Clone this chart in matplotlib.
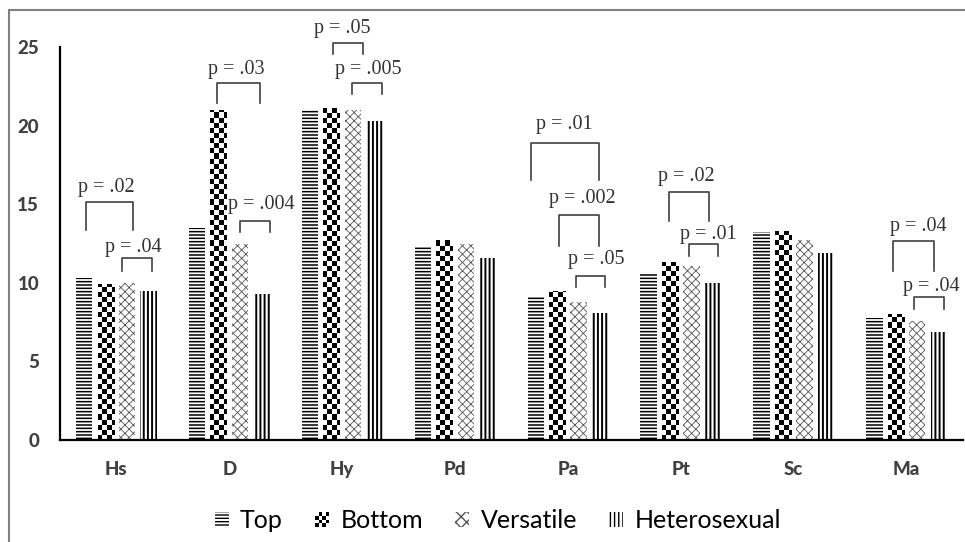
import numpy as np
import matplotlib
matplotlib.use("Agg")
import matplotlib.pyplot as plt
from matplotlib.patches import Patch, Rectangle
from matplotlib.legend_handler import HandlerBase

# MMPI scale scores by group
scales = ["Hs", "D", "Hy", "Pd", "Pa", "Pt", "Sc", "Ma"]
groups = ["Top", "Bottom", "Versatile", "Heterosexual"]
top = [10.3, 13.5, 21.0, 12.3, 9.15, 10.6, 13.2, 7.75]
bottom = [9.9, 21.0, 21.1, 12.75, 9.45, 11.35, 13.3, 8.0]
versatile = [10.0, 12.5, 21.0, 12.5, 8.8, 11.05, 12.75, 7.6]
hetero = [9.5, 9.3, 20.3, 11.55, 8.1, 10.0, 11.9, 6.9]

# significance brackets: x from / to, top of bracket, foot of legs
p_labels = ["p = .02", "p = .04", "p = .03", "p = .004", "p = .05", "p = .005",
            "p = .01", "p = .002", "p = .05", "p = .02", "p = .01", "p = .04", "p = .04"]
br_x0 = [-0.266, 0.053, 0.895, 1.098, 1.922, 2.09, 3.676, 3.924, 4.074, 4.898, 5.075, 6.882, 7.068]
br_x1 = [0.151, 0.319, 1.275, 1.364, 2.188, 2.356, 4.278, 4.278, 4.331, 5.252, 5.332, 7.245, 7.334]
br_top = [15.17, 11.55, 22.72, 13.96, 25.25, 22.72, 18.91, 14.34, 10.41, 15.8, 12.44, 12.63, 9.07]
br_foot = [13.39, 10.72, 21.45, 13.2, 24.56, 22.02, 16.56, 12.37, 9.71, 13.9, 11.68, 10.72, 8.31]
lab_x = [-0.089, 0.151, 1.063, 1.284, 2.002, 2.232, 3.968, 4.128, 4.252, 5.048, 5.243, 7.104, 7.219]
lab_y = [16.05, 12.25, 23.6, 14.97, 26.2, 23.6, 20.05, 15.36, 11.48, 16.75, 13.07, 13.58, 9.77]

fig = plt.figure(figsize=(9.65, 5.42), dpi=100)
ax = fig.add_axes([60 / 965, 102 / 542, 903 / 965, 393 / 542])

x = np.arange(len(scales))
pitch = 0.19
width = 0.145


def style_bars(bars, hatch, color, hlw):
    for b in bars:
        b.set_hatch(hatch)
        b.set_edgecolor(color)
        b.set_linewidth(0)
        if hasattr(b, "set_hatch_linewidth"):
            b.set_hatch_linewidth(hlw)


with plt.rc_context({"hatch.linewidth": 1.1}):
    b_top = ax.bar(x - 1.5 * pitch, top, width, color="white", zorder=2)
    style_bars(b_top, "-----", "black", 1.1)
b_bot = ax.bar(x - 0.5 * pitch, bottom, width, color="white", linewidth=0, zorder=2)
with plt.rc_context({"hatch.linewidth": 0.6}):
    b_ver = ax.bar(x + 0.5 * pitch, versatile, width, color="white", zorder=2)
    style_bars(b_ver, "xxxx", "#555555", 0.6)
with plt.rc_context({"hatch.linewidth": 1.4}):
    b_het = ax.bar(x + 1.5 * pitch, hetero, width, color="white", zorder=2)
    style_bars(b_het, "||||", "black", 1.4)

# checkerboard fill for the Bottom group
nx, ny = 176, 77
checker = np.add.outer(np.arange(ny), np.arange(nx)) % 2
for b in b_bot:
    im = ax.imshow(checker, cmap="gray_r", extent=(-0.5, 7.5, 0, 25), origin="lower",
                   aspect="auto", interpolation="nearest", zorder=2.5)
    im.set_clip_path(b)

ax.set_xlim(-0.5, 7.5)
ax.set_ylim(0, 25)
ax.set_yticks([0, 5, 10, 15, 20, 25])
ax.set_xticks(x)
ax.set_xticklabels(scales)

for s in ["top", "right"]:
    ax.spines[s].set_visible(False)
ax.spines["left"].set_linewidth(1.6)
ax.spines["bottom"].set_linewidth(1.6)
ax.tick_params(length=0)
ax.tick_params(axis="y", pad=15)
ax.tick_params(axis="x", pad=15)
for lab in ax.get_xticklabels() + ax.get_yticklabels():
    lab.set_fontfamily("Lato")
    lab.set_fontweight("black")
    lab.set_fontsize(13.5)
    lab.set_color("#404040")

# brackets with p values
for i in range(len(p_labels)):
    ax.plot([br_x0[i], br_x0[i], br_x1[i], br_x1[i]],
            [br_foot[i], br_top[i], br_top[i], br_foot[i]],
            color="#404040", lw=1.2, solid_joinstyle="round", clip_on=False, zorder=3)
    ax.text(lab_x[i], lab_y[i], p_labels[i], ha="center", va="center",
            family="Liberation Serif", fontsize=14.5, color="#333333", clip_on=False)


class CheckerHandler(HandlerBase):
    def create_artists(self, legend, orig_handle, xdescent, ydescent, width, height, fontsize, trans):
        n = 4
        w, h = width / n, height / n
        arts = []
        for i in range(n):
            for j in range(n):
                if (i + j) % 2 == 0:
                    arts.append(Rectangle((-xdescent + i * w, -ydescent + j * h), w, h,
                                          facecolor="black", lw=0, transform=trans))
        return arts


h_top = Patch(facecolor="white", edgecolor="black", lw=0, hatch="-----")
h_bot = Patch(facecolor="white", edgecolor="black", lw=0)
h_ver = Patch(facecolor="white", edgecolor="#555555", lw=0, hatch="xxx")
h_het = Patch(facecolor="white", edgecolor="black", lw=0, hatch="||||")
fig.legend([h_top, h_bot, h_ver, h_het], groups, loc="center", bbox_to_anchor=(0.516, 0.039),
           ncol=4, frameon=False, handlelength=0.55, handleheight=0.55, handletextpad=0.45,
           columnspacing=1.3, handler_map={h_bot: CheckerHandler()},
           prop={"family": "Lato", "size": 18})

# outer frame
fig.patches.append(Rectangle((9 / 965, -0.05), 1.0, 532 / 542 + 0.05, transform=fig.transFigure,
                             fill=False, edgecolor="#808080", lw=1.5))

fig.savefig("out.png", dpi=100)
